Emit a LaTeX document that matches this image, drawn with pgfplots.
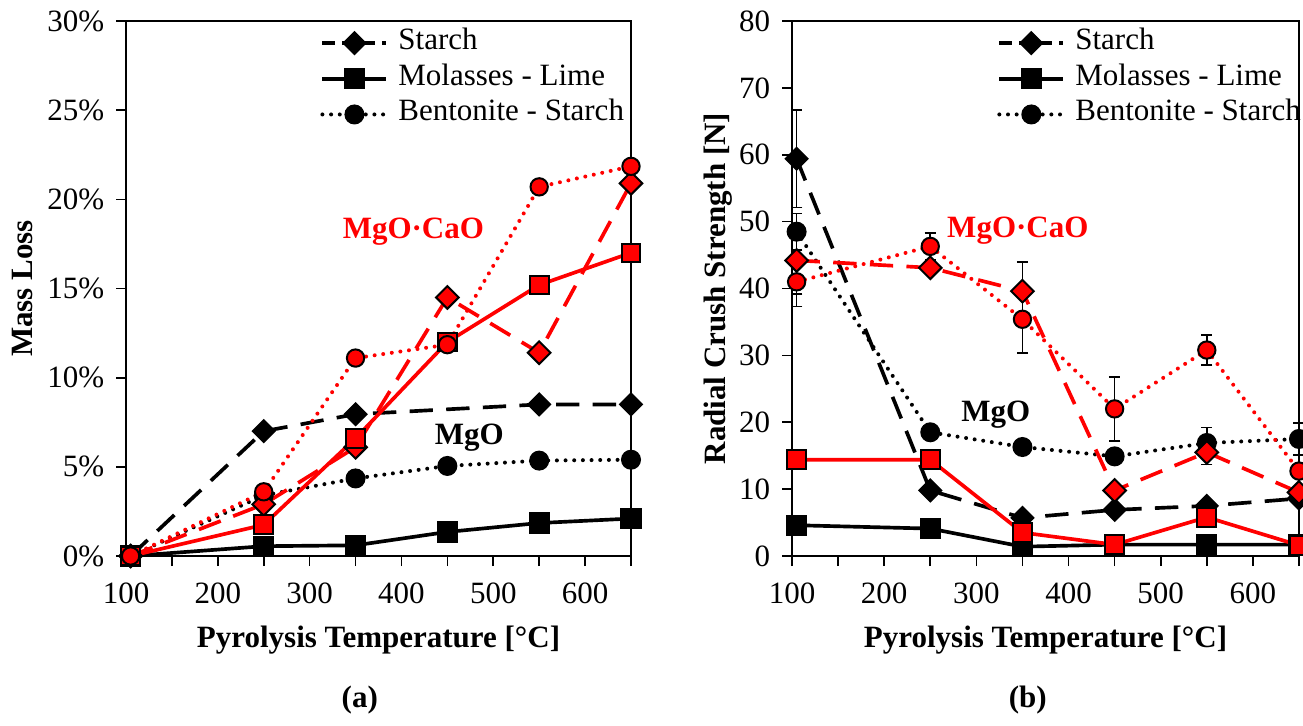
\documentclass[border=0pt]{standalone}
\usepackage{fontspec}
\setmainfont{Liberation Serif}
\usepackage{pgfplots}
\pgfplotsset{compat=1.18}

\newcommand{\fs}{\fontsize{9.3}{11}\selectfont}

\pgfplotsset{
  % Starch: dashed, diamonds
  stK/.style={black, line width=1.1pt, dash pattern=on 7pt off 4pt, mark=square*,
    mark options={solid, rotate=45, mark size=2.4pt, fill=black, draw=black, line width=0.4pt},
    legend image post style={dash pattern=on 3.8pt off 2.2pt}},
  stR/.style={red, line width=1.1pt, dash pattern=on 7pt off 4pt, mark=square*,
    mark options={solid, rotate=45, mark size=2.4pt, fill=red, draw=black, line width=0.6pt}},
  % Molasses - Lime: solid, squares
  mlK/.style={black, line width=1.1pt, solid, mark=square*,
    mark options={solid, mark size=3.0pt, fill=black, draw=black, line width=0.4pt}},
  mlR/.style={red, line width=1.1pt, solid, mark=square*,
    mark options={solid, mark size=2.8pt, fill=red, draw=black, line width=0.6pt}},
  % Bentonite - Starch: dotted, circles
  bsK/.style={black, line width=1.2pt, line cap=round, dash pattern=on 0pt off 2.6pt, mark=*,
    mark options={solid, mark size=2.8pt, fill=black, draw=black, line width=0.4pt}},
  bsR/.style={red, line width=1.2pt, line cap=round, dash pattern=on 0pt off 2.6pt, mark=*,
    mark options={solid, mark size=2.6pt, fill=red, draw=black, line width=0.6pt}},
  errs/.style={/pgfplots/error bars/.cd, y dir=both, y explicit,
    error bar style={black, solid, line width=0.5pt, line cap=butt},
    error mark options={rotate=90, black, solid, mark size=1.7pt, line width=0.5pt},
    /pgfplots/.cd},
  myax/.style={
    scale only axis, width=151.5pt, height=160.5pt,
    anchor=south west,
    xmin=100, xmax=650,
    xtick={100,200,...,600}, minor xtick={150,250,...,650},
    tick align=outside, major tick length=3pt, minor tick length=3pt,
    tick pos=left,
    tick style={black, line width=0.5pt},
    axis line style={black, line width=0.5pt},
    clip=false,
    /pgf/number format/assume math mode=true,
    tick label style={font=\fs},
    xticklabel style={yshift=-1.5pt},
    label style={font=\fs\bfseries},
    xlabel={Pyrolysis Temperature [°C]},
    xlabel style={at={(axis description cs:0.5,-0.157)}, anchor=center},
    legend cell align=left,
    legend image code/.code={\draw[mark repeat=2, mark phase=2, ##1]
      plot coordinates {(0pt,0pt) (9.6pt,0pt) (19.2pt,0pt)};},
    legend style={draw=none, fill=none, inner sep=0pt, outer sep=0pt,
      anchor=north west, row sep=0pt, font=\fs,
      nodes={inner sep=0.5pt, text height=6.8pt, text depth=2.9pt},
      /tikz/every odd column/.style={column sep=2.5pt}},
  },
}

\begin{document}
\begin{tikzpicture}
\path[use as bounding box] (0,0) rectangle (390.9pt,217.5pt);

% ---------- (a) Mass loss ----------
\begin{axis}[myax, at={(37.8pt,50.7pt)},
  ymin=0, ymax=30, ytick={0,5,...,30},
  yticklabel={\pgfmathprintnumber{\tick}\%},
  ylabel={Mass Loss},
  ylabel style={at={(axis description cs:-0.204,0.5)}, anchor=center},
  legend style={at={(0.385,0.992)}},
]
\addplot[stK] coordinates {(105,0) (250,7.0) (350,7.95) (550,8.5) (650,8.5)};
\addlegendentry{Starch}
\addplot[mlK] coordinates {(105,0) (250,0.55) (350,0.6) (450,1.35) (550,1.85) (650,2.1)};
\addlegendentry{Molasses - Lime}
\addplot[bsK] coordinates {(105,0) (250,3.4) (350,4.35) (450,5.05) (550,5.35) (650,5.4)};
\addlegendentry{Bentonite - Starch}

\addplot[stR, forget plot] coordinates {(105,0) (250,2.9) (350,6.1) (450,14.5) (550,11.4) (650,20.9)};
\addplot[mlR, forget plot] coordinates {(105,0) (250,1.75) (350,6.6) (450,12.0) (550,15.2) (650,17.0)};
\addplot[bsR, forget plot] coordinates {(105,0) (250,3.6) (350,11.1) (450,11.85) (550,20.7) (650,21.85)};

\node[text=red, font=\fs\bfseries] at (axis cs:413,18.2) {MgO·CaO};
\node[font=\fs\bfseries] at (axis cs:474,6.65) {MgO};
\node[font=\fs\bfseries] at (axis description cs:0.463,-0.269) {(a)};
\end{axis}

% ---------- (b) Radial crush strength ----------
\begin{axis}[myax, at={(237.6pt,50.7pt)}, width=152.1pt,
  ymin=0, ymax=80, ytick={0,10,...,80},
  ylabel={Radial Crush Strength [N]},
  ylabel style={at={(axis description cs:-0.146,0.5)}, anchor=center},
  legend style={at={(0.405,0.992)}},
]
\addplot[stK, errs] coordinates {(105,59.4) +- (0,7.3) (250,9.8) +- (0,0) (350,5.7) +- (0,0)
  (450,6.9) +- (0,0) (550,7.5) +- (0,0) (650,8.6) +- (0,0)};
\addlegendentry{Starch}
\addplot[mlK] coordinates {(105,4.6) (250,4.1) (350,1.4) (450,1.7) (550,1.7) (650,1.7)};
\addlegendentry{Molasses - Lime}
\addplot[bsK, errs] coordinates {(105,48.5) +- (0,2.7) (250,18.5) +- (0,0) (350,16.3) +- (0,0)
  (450,14.9) +- (0,0) (550,16.9) +- (0,2.3) (650,17.5) +- (0,2.4)};
\addlegendentry{Bentonite - Starch}

\addplot[stR, forget plot, errs] coordinates {(105,44.2) +- (0,5.0) (250,43.1) +- (0,1.0)
  (350,39.6) +- (0,4.4) (450,9.8) +- (0,0) (550,15.5) +- (0,1.8) (650,9.5) +- (0,0)};
\addplot[mlR, forget plot] coordinates {(105,14.4) (250,14.4) (350,3.5) (450,1.7) (550,5.8) (650,1.6)};
\addplot[bsR, forget plot, errs] coordinates {(105,41.0) +- (0,3.7) (250,46.3) +- (0,2.0)
  (350,35.4) +- (0,5.0) (450,22.0) +- (0,4.8) (550,30.8) +- (0,2.2) (650,12.7) +- (0,0)};

\node[text=red, font=\fs\bfseries] at (axis cs:345,48.6) {MgO·CaO};
\node[font=\fs\bfseries] at (axis cs:321,21.1) {MgO};
\node[font=\fs\bfseries] at (axis description cs:0.465,-0.269) {(b)};
\end{axis}
\end{tikzpicture}
\end{document}
